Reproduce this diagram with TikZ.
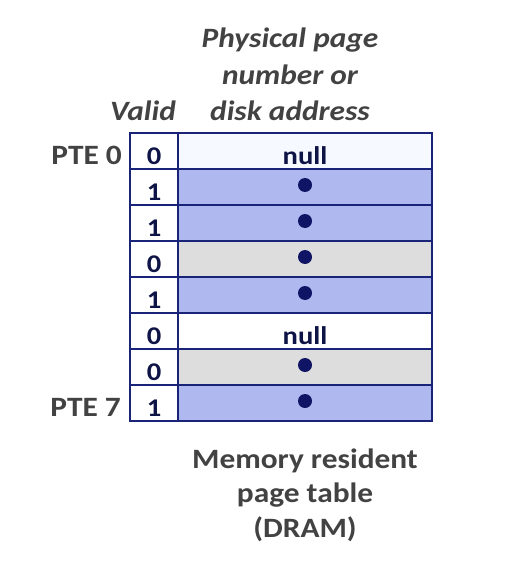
\documentclass[tikz,border=0pt]{standalone}
\usepackage{fontspec}
\setmainfont{Carlito}[FakeStretch=1.12]
\definecolor{frame}{RGB}{25,35,120}
\definecolor{blue}{RGB}{176,184,240}
\definecolor{grey}{RGB}{221,221,221}
\definecolor{paper}{RGB}{246,249,255}
\definecolor{ink}{RGB}{66,66,66}
\definecolor{cellink}{RGB}{15,20,70}
\definecolor{dotc}{RGB}{15,20,100}
\begin{document}
\begin{tikzpicture}[x=1pt,y=-1pt,
  vcell/.style={draw=frame,line width=2.6pt,fill=white,minimum width=48pt,minimum height=36pt,
    inner sep=0pt,text height=26pt,text depth=0pt,text=cellink,font=\fontsize{25.5}{28}\selectfont\bfseries},
  pcell/.style={vcell,minimum width=254pt},
  dot/.style={circle,fill=dotc,minimum size=14pt,inner sep=0pt},
  caption/.style={inner sep=0pt,align=center,text=ink,font=\fontsize{28}{36.5}\selectfont\bfseries}]
  \useasboundingbox[fill=white] (0,0) rectangle (504,567);

  % Headings
  \node[caption,font=\fontsize{28}{36.5}\selectfont\bfseries\itshape,anchor=base] (ppn) at (290,121)
    {Physical page\\number or\\disk address};
  \node[caption,font=\fontsize{28}{36.5}\selectfont\bfseries\itshape,anchor=base] (valid) at (143,121) {Valid};

  % Valid bits
  \node[vcell] (v0) at (154,151) {0};
  \node[vcell] (v1) at (154,187) {1};
  \node[vcell] (v2) at (154,223) {1};
  \node[vcell] (v3) at (154,259) {0};
  \node[vcell] (v4) at (154,295) {1};
  \node[vcell] (v5) at (154,331) {0};
  \node[vcell] (v6) at (154,367) {0};
  \node[vcell] (v7) at (154,403) {1};

  % Physical page number or disk address
  \node[pcell,fill=paper] (p0) at (305,151) {null};
  \node[pcell,fill=blue] (p1) at (305,187) {};
  \node[pcell,fill=blue] (p2) at (305,223) {};
  \node[pcell,fill=grey] (p3) at (305,259) {};
  \node[pcell,fill=blue] (p4) at (305,295) {};
  \node[pcell] (p5) at (305,331) {null};
  \node[pcell,fill=grey] (p6) at (305,367) {};
  \node[pcell,fill=blue] (p7) at (305,403) {};

  \node[dot] (d1) at ([yshift=2pt]p1.center) {};
  \node[dot] (d2) at ([yshift=2pt]p2.center) {};
  \node[dot] (d3) at ([yshift=2pt]p3.center) {};
  \node[dot] (d4) at ([yshift=2pt]p4.center) {};
  \node[dot] (d6) at ([yshift=2pt]p6.center) {};
  \node[dot] (d7) at ([yshift=2pt]p7.center) {};

  % Entry labels
  \node[caption,anchor=base east] (pte0) at (122,164) {PTE 0};
  \node[caption,anchor=base east] (pte7) at (121,416) {PTE 7};

  \node[caption,font=\fontsize{28}{34.5}\selectfont\bfseries,anchor=base] (dram) at (305,537)
    {Memory resident\\page table\\(DRAM)};
\end{tikzpicture}
\end{document}
